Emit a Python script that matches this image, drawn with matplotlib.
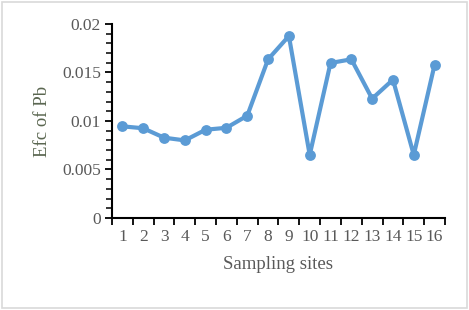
import matplotlib.pyplot as plt
import matplotlib.patches as mpatches
from matplotlib.ticker import MultipleLocator, FixedLocator

sites = list(range(1, 17))
efc_pb = [0.00945, 0.00925, 0.00828, 0.0080, 0.0091, 0.0093, 0.01055, 0.01636,
          0.01876, 0.0065, 0.01598, 0.01636, 0.0123, 0.01426, 0.0065, 0.0158]

plt.rcParams["font.family"] = ["Liberation Serif", "DejaVu Serif"]
text_color = "#595959"

fig = plt.figure(figsize=(4.69, 3.10), dpi=100)
ax = fig.add_axes([0.2388, 0.2968, 0.71, 0.6258])

ax.plot(sites, efc_pb, color="#5B9BD5", lw=3.0, marker="o", ms=7.8,
        markeredgewidth=0)

ax.set_xlim(0.5, 16.5)
ax.set_ylim(0, 0.02)
ax.xaxis.set_major_locator(FixedLocator([i + 0.5 for i in range(0, 17)]))
ax.xaxis.set_major_formatter(plt.NullFormatter())
ax.set_xticks(sites, [str(s) for s in sites], minor=True)
ax.tick_params(axis="x", which="major", length=5, width=1.3, direction="out")
ax.tick_params(axis="x", which="minor", length=0, labelsize=12.5,
               labelcolor=text_color, pad=8)

ax.yaxis.set_minor_locator(MultipleLocator(0.001))
ax.set_yticks([0, 0.005, 0.01, 0.015, 0.02], ["0", "0.005", "0.01", "0.015", "0.02"])
ax.tick_params(axis="y", which="major", length=5, width=1.3, labelsize=12.5,
               labelcolor=text_color, pad=3)
ax.tick_params(axis="y", which="minor", length=4, width=1.1)

for side in ["top", "right"]:
    ax.spines[side].set_visible(False)
for side in ["left", "bottom"]:
    ax.spines[side].set_linewidth(1.5)

ax.set_xlabel("Sampling sites", fontsize=13.5, color=text_color, labelpad=8)
ax.set_ylabel("Efc of Pb", fontsize=13.5, color="#5a6650", labelpad=8)

fig.patches.append(mpatches.Rectangle((0.004, 0.006), 0.992, 0.988,
                                      transform=fig.transFigure, fill=False,
                                      edgecolor="#D9D9D9", lw=1.2))

fig.savefig("out.png", dpi=100)
